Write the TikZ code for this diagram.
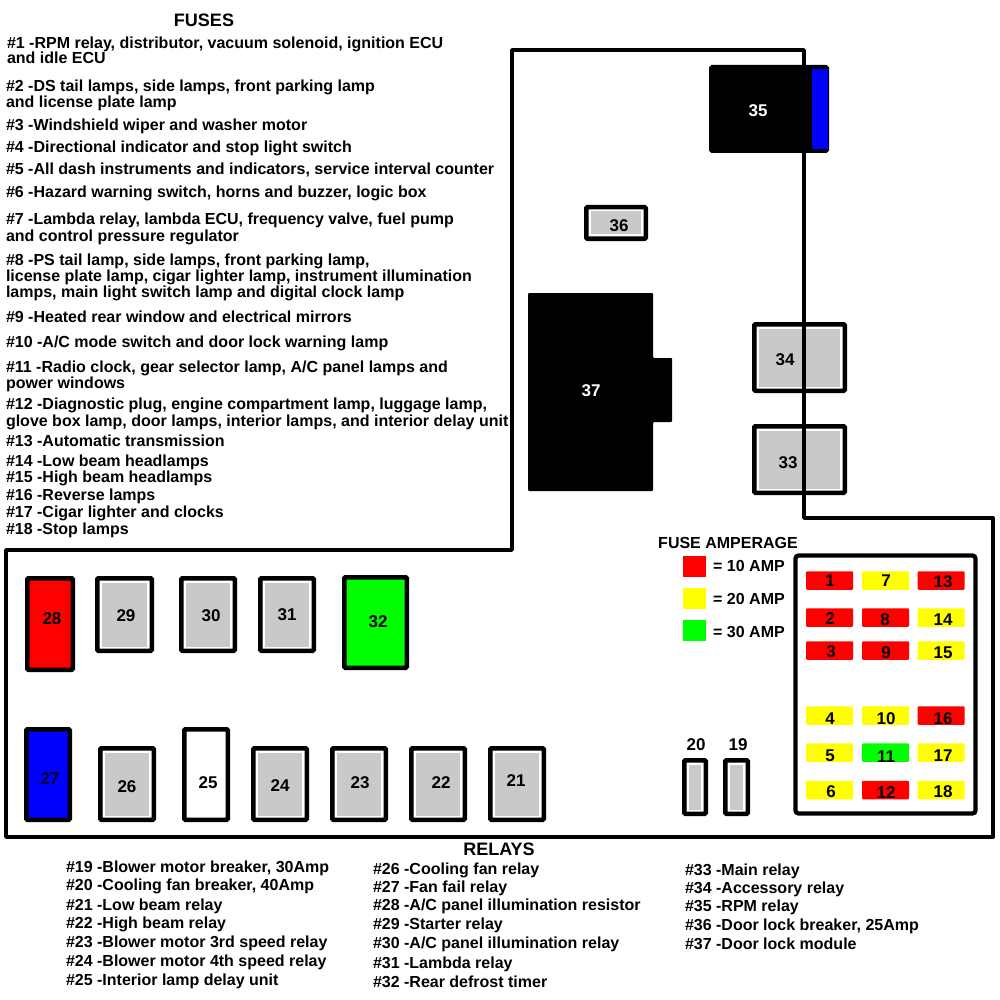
\documentclass[tikz,border=0pt]{standalone}
\usepackage{fontspec}
\setmainfont{Liberation Sans}
\tikzset{
  x=1pt,y=-1pt,
  outline/.style={draw=black,line width=3.8pt,line join=round},
  fusetxt/.style={font=\bfseries\fontsize{16}{18}\selectfont,anchor=base west,inner sep=0pt,outer sep=0pt},
  relaytxt/.style={font=\bfseries\fontsize{16}{18}\selectfont,anchor=base west,inner sep=0pt,outer sep=0pt},
  headtxt/.style={font=\bfseries\fontsize{16}{18}\selectfont,inner sep=0pt},
  bighead/.style={font=\bfseries\fontsize{18}{20}\selectfont,inner sep=0pt},
  numtxt/.style={font=\bfseries\fontsize{17}{18}\selectfont,inner sep=0pt,text=#1},
  numtxt/.default=black,
  solidbox/.style={draw=black,line width=4.5pt,rounded corners=1pt,inner sep=0pt,outer sep=0pt},
  innerbox/.style={inner sep=0pt,outer sep=0pt},
  chip/.style={inner sep=0pt,outer sep=0pt,minimum width=47pt,minimum height=18.5pt,rounded corners=1pt},
  swatch/.style={inner sep=0pt,outer sep=0pt,minimum width=23pt,minimum height=21pt},
}
\definecolor{relaygrey}{HTML}{C9C9C9}
\definecolor{cred}{HTML}{FF0000}
\definecolor{cyel}{HTML}{FFFF00}
\definecolor{cgrn}{HTML}{00FF00}
\definecolor{cblu}{HTML}{0000FF}
% name, x1, y1, x2, y2 (outer edges), fill
\newcommand{\solidunit}[6]{%
  \node[solidbox,fill=#6,minimum width={#4-#2-4.5},minimum height={#5-#3-4.5}] (#1) at ({(#2+#4)/2},{(#3+#5)/2}) {};}
% name, x1, y1, x2, y2 (outer edges): white bevel and grey core
\newcommand{\greyunit}[5]{%
  \solidunit{#1}{#2}{#3}{#4}{#5}{white}
  \node[innerbox,fill=relaygrey,minimum width={#4-#2-13.5},minimum height={#5-#3-13}] (#1core) at (#1.center) {};}
\begin{document}
\begin{tikzpicture}
\useasboundingbox (0,0) rectangle (1000,1000);
\fill[white] (0,0) rectangle (1000,1000);

% relays crossed by the outline
\greyunit{r34}{752}{322}{847}{393}
\greyunit{r33}{752}{424}{847}{495}

% enclosure outline
\draw[outline] (6,550) -- (512,550) -- (512,50) -- (804,50) -- (804,518) -- (993,518) -- (993,837) -- (6,837) -- cycle;

% upper block
\solidunit{r35}{709}{65}{829}{153}{black}
\node[innerbox,fill=cblu,minimum width=16pt,minimum height=80pt] (r35b) at (820,109) {};
\node[numtxt=white] (n35) at (758,111) {35};
\greyunit{r36}{584}{205}{648}{241}
\node[numtxt] (n36) at (619,226) {36};
\fill[black,rounded corners=1pt] (528,293) -- (653,293) -- (653,358) -- (672,358) -- (672,422) -- (653,422) -- (653,491) -- (528,491) -- cycle;
\node[numtxt=white] (n37) at (591,391) {37};
\node[numtxt] (n34) at (785,360) {34};
\node[numtxt] (n33) at (788,463) {33};

% upper row
\solidunit{r28}{25}{576}{75}{672}{cred}
\node[numtxt] (n28) at (52,619) {28};
\greyunit{r29}{95}{576}{154}{653}
\node[numtxt] (n29) at (126,616) {29};
\greyunit{r30}{179}{576}{237}{653}
\node[numtxt] (n30) at (211,616) {30};
\greyunit{r31}{258}{576}{316}{653}
\node[numtxt] (n31) at (287,615) {31};
\solidunit{r32}{342}{575}{409}{670}{cgrn}
\node[numtxt] (n32) at (378,622) {32};

% lower row
\solidunit{r27}{24}{727}{72}{822}{cblu}
\node[numtxt=black!85!blue] (n27) at (50,779) {27};
\greyunit{r26}{98}{746}{156}{822}
\node[numtxt] (n26) at (127,787) {26};
\solidunit{r25}{182}{727}{230}{822}{white}
\node[numtxt] (n25) at (208,783) {25};
\greyunit{r24}{251}{746}{309}{822}
\node[numtxt] (n24) at (280,786) {24};
\greyunit{r23}{330}{746}{388}{822}
\node[numtxt] (n23) at (360,783) {23};
\greyunit{r22}{409}{746}{467}{822}
\node[numtxt] (n22) at (441,783) {22};
\greyunit{r21}{488}{746}{546}{822}
\node[numtxt] (n21) at (516,781) {21};

% breakers
\greyunit{r20}{682}{758}{708}{816}
\greyunit{r19}{723}{758}{750}{816}
\node[numtxt] (n20) at (696,745) {20};
\node[numtxt] (n19) at (738,745) {19};

% legend
\node[headtxt] (amphead) at (728,543) {FUSE AMPERAGE};
\node[swatch,fill=cred] (sw10) at (694.5,566.5) {};
\node[swatch,fill=cyel] (sw20) at (694.5,598.5) {};
\node[swatch,fill=cgrn] (sw30) at (694.5,630.5) {};
\node[headtxt,anchor=west] (am10) at (713,566) {= 10 AMP};
\node[headtxt,anchor=west] (am20) at (713,599) {= 20 AMP};
\node[headtxt,anchor=west] (am30) at (713,632) {= 30 AMP};

% fuse block
\node[draw=black,line width=4.2pt,rounded corners=3pt,inner sep=0pt,outer sep=0pt,minimum width=180pt,minimum height=258pt] (fusebox) at (885.5,684.5) {};
\foreach \nm/\cx/\cy/\col/\tx/\ty in {
  1/829.5/580.5/cred/830/581, 2/829.5/617.5/cred/830/619, 3/829.5/650.5/cred/831/652,
  4/829.5/715.5/cyel/830/719, 5/829.5/752.5/cyel/830/756, 6/829.5/790/cyel/831/792,
  7/885.5/580.5/cyel/886/581, 8/885.5/617.5/cred/885/620, 9/885.5/650.5/cred/886/653,
  10/885.5/715.5/cyel/886/719, 11/885.5/752.5/cgrn/886/757, 12/885.5/790/cred/886/793,
  13/941/580.5/cred/943/582, 14/941/617.5/cyel/943/620, 15/941/650.5/cyel/943/653,
  16/941/715.5/cred/943/719, 17/941/752.5/cyel/943/756, 18/941/790/cyel/943/792}{
  \node[chip,fill=\col] (fuse\nm) at (\cx,\cy) {};
  \node[numtxt] (fn\nm) at (\tx,\ty) {\nm};
}

% texts
\node[bighead] (fuseshead) at (204,20) {FUSES};
\node[bighead] (relayshead) at (499,849) {RELAYS};

\node[fusetxt] (f1a) at (7,49) {\#1 -RPM relay, distributor, vacuum solenoid, ignition ECU};
\node[fusetxt] (f1b) at (7,64) {and idle ECU};
\node[fusetxt] (f2a) at (6,92) {\#2 -DS tail lamps, side lamps, front parking lamp};
\node[fusetxt] (f2b) at (6,108) {and license plate lamp};
\node[fusetxt] (f3) at (6,131) {\#3 -Windshield wiper and washer motor};
\node[fusetxt] (f4) at (6,153) {\#4 -Directional indicator and stop light switch};
\node[fusetxt] (f5) at (6,175) {\#5 -All dash instruments and indicators, service interval counter};
\node[fusetxt] (f6) at (6,198) {\#6 -Hazard warning switch, horns and buzzer, logic box};
\node[fusetxt] (f7a) at (6,225) {\#7 -Lambda relay, lambda ECU, frequency valve, fuel pump};
\node[fusetxt] (f7b) at (6,241) {and control pressure regulator};
\node[fusetxt] (f8a) at (6,265) {\#8 -PS tail lamp, side lamps, front parking lamp,};
\node[fusetxt] (f8b) at (6,281) {license plate lamp, cigar lighter lamp, instrument illumination};
\node[fusetxt] (f8c) at (6,297) {lamps, main light switch lamp and digital clock lamp};
\node[fusetxt] (f9) at (6,322) {\#9 -Heated rear window and electrical mirrors};
\node[fusetxt] (f10) at (6,347) {\#10 -A/C mode switch and door lock warning lamp};
\node[fusetxt] (f11a) at (6,372) {\#11 -Radio clock, gear selector lamp, A/C panel lamps and};
\node[fusetxt] (f11b) at (6,388) {power windows};
\node[fusetxt] (f12a) at (6,409) {\#12 -Diagnostic plug, engine compartment lamp, luggage lamp,};
\node[fusetxt] (f12b) at (6,426) {glove box lamp, door lamps, interior lamps, and interior delay unit};
\node[fusetxt] (f13) at (6,446) {\#13 -Automatic transmission};
\node[fusetxt] (f14) at (6,466) {\#14 -Low beam headlamps};
\node[fusetxt] (f15) at (6,482) {\#15 -High beam headlamps};
\node[fusetxt] (f16) at (6,500) {\#16 -Reverse lamps};
\node[fusetxt] (f17) at (6,517) {\#17 -Cigar lighter and clocks};
\node[fusetxt] (f18) at (6,534) {\#18 -Stop lamps};

\node[relaytxt] (l19) at (66,872) {\#19 -Blower motor breaker, 30Amp};
\node[relaytxt] (l20) at (66,890) {\#20 -Cooling fan breaker, 40Amp};
\node[relaytxt] (l21) at (66,910) {\#21 -Low beam relay};
\node[relaytxt] (l22) at (66,928) {\#22 -High beam relay};
\node[relaytxt] (l23) at (66,947) {\#23 -Blower motor 3rd speed relay};
\node[relaytxt] (l24) at (66,966) {\#24 -Blower motor 4th speed relay};
\node[relaytxt] (l25) at (66,985) {\#25 -Interior lamp delay unit};
\node[relaytxt] (l26) at (373,874) {\#26 -Cooling fan relay};
\node[relaytxt] (l27) at (373,892) {\#27 -Fan fail relay};
\node[relaytxt] (l28) at (373,910) {\#28 -A/C panel illumination resistor};
\node[relaytxt] (l29) at (373,929) {\#29 -Starter relay};
\node[relaytxt] (l30) at (373,948) {\#30 -A/C panel illumination relay};
\node[relaytxt] (l31) at (373,968) {\#31 -Lambda relay};
\node[relaytxt] (l32) at (373,987) {\#32 -Rear defrost timer};
\node[relaytxt] (l33) at (685,875) {\#33 -Main relay};
\node[relaytxt] (l34) at (685,893) {\#34 -Accessory relay};
\node[relaytxt] (l35) at (685,911) {\#35 -RPM relay};
\node[relaytxt] (l36) at (685,930) {\#36 -Door lock breaker, 25Amp};
\node[relaytxt] (l37) at (685,949) {\#37 -Door lock module};
\end{tikzpicture}
\end{document}
